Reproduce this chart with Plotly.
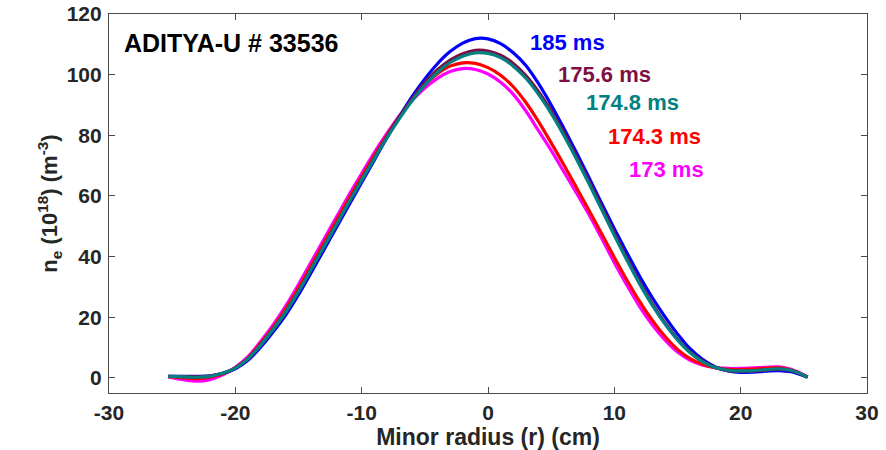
import plotly.graph_objects as go

# minor radius grid (cm)
radius_cm = [-25.3, -24, -23, -22, -21, -20, -19, -18, -17, -16, -15, -14, -13, -12, -11,
             -10, -9, -8, -7, -6, -5, -4, -3, -2, -1, 0, 1, 2, 3, 4, 5, 6, 7, 8, 9,
             10, 11, 12, 13, 14, 15, 16, 17, 18, 19, 20, 21, 22, 23, 24, 25.3]

# electron density profiles, 10^18 m^-3
ne_173 = [0.3, -0.7, -1.1, -0.6, 1.0, 3.5, 7.0, 12.0, 17.5, 23.8, 30.8, 38.2, 45.6, 53.0, 60.4,
          67.4, 74.3, 80.6, 86.5, 91.5, 95.6, 98.8, 101.0, 102.0, 101.7, 100.2, 97.5, 93.5, 88.0,
          81.5, 75.0, 68.0, 61.0, 53.8, 46.0, 38.0, 30.5, 23.5, 17.5, 12.5, 8.5, 5.8, 4.2, 3.4,
          3.1, 3.1, 3.3, 3.5, 3.6, 2.8, 0.3]
ne_174_3 = [0.4, 0.0, -0.3, 0.2, 1.3, 3.3, 6.6, 11.4, 16.7, 22.8, 29.6, 37.0, 44.4, 51.8, 59.2,
            66.3, 73.3, 80.0, 86.2, 91.8, 96.6, 100.3, 102.8, 103.9, 103.7, 102.3, 99.8, 96.0,
            90.8, 84.5, 77.5, 70.3, 62.8, 55.2, 47.5, 39.7, 32.2, 25.2, 19.0, 13.7, 9.4, 6.3,
            4.4, 3.3, 2.8, 2.7, 2.9, 3.2, 3.3, 2.6, 0.3]
ne_185 = [0.5, 0.5, 0.5, 0.7, 1.5, 3.0, 5.8, 10.1, 15.2, 20.8, 27.4, 34.7, 42.1, 49.6, 57.0,
          64.4, 71.8, 79.2, 86.2, 92.8, 98.6, 103.6, 107.6, 110.4, 111.9, 111.8, 110.2, 107.2,
          103.0, 97.0, 90.0, 82.3, 74.3, 66.0, 57.5, 49.2, 41.2, 33.5, 26.5, 20.2, 14.5, 9.6,
          6.0, 3.6, 2.3, 1.8, 1.9, 2.2, 2.4, 2.0, 0.2]
ne_175_6 = [0.5, 0.4, 0.3, 0.6, 1.5, 3.2, 6.3, 10.8, 16.0, 21.8, 28.5, 35.8, 43.2, 50.6, 58.0,
            65.3, 72.5, 79.5, 86.1, 92.1, 97.3, 101.6, 104.8, 106.9, 108.0, 107.8, 106.4, 103.7,
            99.7, 94.4, 88.1, 80.9, 73.0, 64.8, 56.3, 47.8, 39.5, 31.6, 24.5, 18.2, 12.8, 8.5,
            5.4, 3.4, 2.4, 2.2, 2.3, 2.6, 2.9, 2.4, 0.2]
ne_174_8 = [0.5, 0.3, 0.2, 0.5, 1.5, 3.2, 6.3, 10.8, 16.0, 21.8, 28.5, 35.8, 43.2, 50.6, 58.0,
            65.2, 72.3, 79.2, 85.6, 91.5, 96.6, 100.8, 104.0, 106.1, 107.2, 107.0, 105.6, 102.8,
            98.8, 93.5, 87.2, 80.0, 72.2, 64.0, 55.5, 47.0, 38.8, 31.0, 24.0, 17.8, 12.5, 8.3,
            5.3, 3.4, 2.5, 2.3, 2.4, 2.7, 3.0, 2.5, 0.3]

x_ticks = [-30, -20, -10, 0, 10, 20, 30]
x_tick_text = ["-30", "-20", "-10", "0", "10", "20", "30"]
y_ticks = [0, 20, 40, 60, 80, 100, 120]

series = [
    ("173 ms", ne_173, "#FF00FF"),
    ("174.3 ms", ne_174_3, "#FF0000"),
    ("185 ms", ne_185, "#0000FF"),
    ("175.6 ms", ne_175_6, "#7E0F45"),
    ("174.8 ms", ne_174_8, "#008080"),
]

# label anchors (data coords): name -> (x, y)
label_pos = {
    "185 ms": (6.3, 110.6),
    "175.6 ms": (9.2, 100.0),
    "174.8 ms": (11.4, 90.8),
    "174.3 ms": (13.2, 79.5),
    "173 ms": (14.1, 68.6),
}

FONT = "Arial, Liberation Sans, sans-serif"

fig = go.Figure()
for name, ne, color in series:
    fig.add_trace(go.Scatter(x=radius_cm, y=ne, mode="lines", name=name,
                             line=dict(color=color, width=3.2, shape="spline", smoothing=1.0)))

annotations = [
    dict(x=-29.0, y=110.6, text="<b>ADITYA-U # 33536</b>", showarrow=False,
         xanchor="left", yanchor="middle", font=dict(family=FONT, size=25, color="#000000")),
]
for name, ne, color in series:
    lx, ly = label_pos[name]
    annotations.append(dict(x=lx, y=ly, text=f"<b>{name}</b>", showarrow=False,
                            xanchor="center", yanchor="middle",
                            font=dict(family=FONT, size=22, color=color)))

axis_common = dict(
    showline=True, linecolor="#4a4a4a", linewidth=1.2, mirror="ticks",
    ticks="inside", ticklen=6, tickcolor="#4a4a4a", tickwidth=1,
    showgrid=False, zeroline=False, automargin=False,
    tickfont=dict(family=FONT, size=21, color="#262626", weight="bold"),
)

fig.update_layout(
    width=886, height=450,
    margin=dict(l=109, r=19, t=14, b=57),
    plot_bgcolor="white", paper_bgcolor="white",
    showlegend=False,
    annotations=annotations,
    xaxis=dict(range=[-30, 30], tickvals=x_ticks, ticktext=x_tick_text, ticklabelstandoff=1,
               title=dict(text="<b>Minor radius (r) (cm)</b>", standoff=2,
                          font=dict(family=FONT, size=23, color="#262626")),
               **axis_common),
    yaxis=dict(range=[-5, 120], tickvals=y_ticks, ticklabelstandoff=2,
               title=dict(text="<b>n<sub>e</sub> (10<sup>18</sup>) (m<sup>-3</sup>)</b>", standoff=2,
                          font=dict(family=FONT, size=22, color="#262626")),
               **axis_common),
)

fig.write_html("out.html", config={"displayModeBar": False},
               post_script="document.body.style.margin='0';")
